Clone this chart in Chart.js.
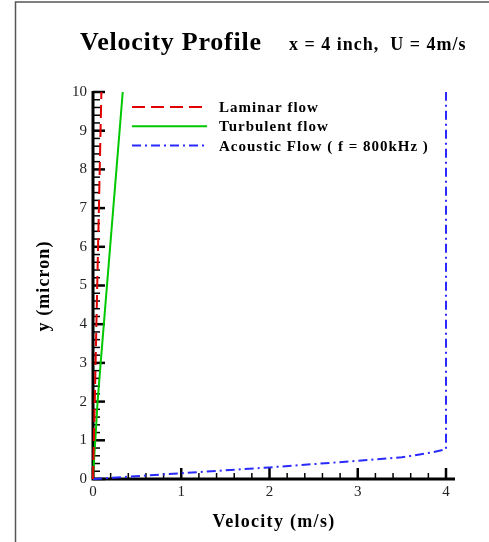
<!DOCTYPE html>
<html>
<head>
<meta charset="utf-8">
<script src="https://cdn.jsdelivr.net/npm/chart.js@4.4.1/dist/chart.umd.min.js"></script>
<style>
  html, body { margin: 0; padding: 0; background: #fff; }
  #wrap { width: 489px; height: 542px; position: relative; }
</style>
</head>
<body>
<div id="wrap"><canvas id="chartVelocity" width="489" height="542"></canvas></div>
<script>
// ── Velocity profile data ───────────────────────────────────

const seriesNames = ["Laminar flow", "Turbulent flow", "Acoustic Flow ( f = 800kHz )"];

const laminarX = [0, 0.02, 0.048, 0.095];
const laminarY = [0, 2, 5, 10];

const turbulentX = [0, 0.012, 0.026, 0.052, 0.087, 0.337];
const turbulentY = [0, 0.5, 1, 2, 3, 10];

const acousticX = [0, 1, 2, 3, 3.5, 3.85, 4, 4];
const acousticY = [0, 0.15, 0.3, 0.47, 0.56, 0.69, 0.77, 10];

const xMajorTicks = [0, 1, 2, 3, 4];
const yMajorTicks = [0, 1, 2, 3, 4, 5, 6, 7, 8, 9, 10];

const SERIF = "'Liberation Serif', 'Times New Roman', serif";

const toPoints = (xs, ys) => xs.map((x, i) => ({ x: x, y: ys[i] }));
const isMajor = (v, list) => list.some((m) => Math.abs(m - v) < 1e-6);

// ── Frame, titles, axes and legend drawn on the canvas ──────

const decorations = {
  id: "decorations",
  beforeDatasetsDraw(chart) {
    const { ctx, scales } = chart;
    const xs = scales.x;
    const ys = scales.y;
    const x0 = xs.getPixelForValue(0);
    const y0 = ys.getPixelForValue(0);
    ctx.save();

    // outer frame (top and left only)
    ctx.strokeStyle = "#555";
    ctx.lineWidth = 1.5;
    ctx.beginPath();
    ctx.moveTo(15.5, 542);
    ctx.lineTo(15.5, 2);
    ctx.lineTo(489, 2);
    ctx.stroke();

    // titles
    ctx.fillStyle = "#000";
    ctx.textBaseline = "alphabetic";
    ctx.textAlign = "left";
    ctx.font = "bold 26px " + SERIF;
    ctx.letterSpacing = "0.75px";
    ctx.fillText("Velocity Profile", 80, 50);
    ctx.font = "bold 18px " + SERIF;
    ctx.letterSpacing = "1px";
    ctx.fillText("x = 4 inch,  U = 4m/s", 289, 50);

    // axis titles
    ctx.font = "bold 18px " + SERIF;
    ctx.textAlign = "center";
    ctx.letterSpacing = "1.3px";
    ctx.fillText("Velocity (m/s)", 274, 527);
    ctx.letterSpacing = "1.1px";
    ctx.save();
    ctx.translate(49, 286);
    ctx.rotate(-Math.PI / 2);
    ctx.fillText("y (micron)", 0, 0);
    ctx.restore();
    ctx.letterSpacing = "0px";

    // tick marks, pointing into the plot
    ctx.strokeStyle = "#000";
    xs.ticks.forEach((t) => {
      const major = isMajor(t.value, xMajorTicks);
      const px = xs.getPixelForValue(t.value);
      ctx.lineWidth = major ? 2.5 : 1.5;
      ctx.beginPath();
      ctx.moveTo(px, y0);
      ctx.lineTo(px, y0 - (major ? 11 : 6));
      ctx.stroke();
    });
    ys.ticks.forEach((t) => {
      const major = isMajor(t.value, yMajorTicks);
      const py = ys.getPixelForValue(t.value);
      ctx.lineWidth = major ? 2.5 : 1.5;
      ctx.beginPath();
      ctx.moveTo(x0, py);
      ctx.lineTo(x0 + (major ? 12 : 7), py);
      ctx.stroke();
    });

    // axis lines
    ctx.lineWidth = 3;
    ctx.beginPath();
    ctx.moveTo(x0, ys.getPixelForValue(10) - 1);
    ctx.lineTo(x0, y0);
    ctx.lineTo(xs.getPixelForValue(4) + 9, y0);
    ctx.stroke();

    // legend
    ctx.font = "bold 15px " + SERIF;
    ctx.textAlign = "left";
    chart.data.datasets.forEach((ds, i) => {
      const ly = 107 + i * 19.3;
      ctx.strokeStyle = ds.borderColor;
      ctx.lineWidth = ds.borderWidth;
      ctx.setLineDash(ds.borderDash || []);
      ctx.beginPath();
      ctx.moveTo(132, ly);
      ctx.lineTo(207, ly);
      ctx.stroke();
      ctx.setLineDash([]);
      ctx.fillStyle = "#000";
      ctx.letterSpacing = "1px";
      ctx.fillText(ds.label, 219, ly + 5);
      ctx.letterSpacing = "0px";
    });

    ctx.restore();
  },
};

new Chart(document.getElementById("chartVelocity"), {
  type: "scatter",
  data: {
    datasets: [
      {
        label: seriesNames[0],
        data: toPoints(laminarX, laminarY),
        borderColor: "#e00000",
        borderWidth: 2,
        borderDash: [13, 6],
      },
      {
        label: seriesNames[1],
        data: toPoints(turbulentX, turbulentY),
        borderColor: "#00c800",
        borderWidth: 2,
      },
      {
        label: seriesNames[2],
        data: toPoints(acousticX, acousticY),
        borderColor: "#2a2aff",
        borderWidth: 2,
        borderDash: [9, 4, 2, 4],
      },
    ],
  },
  options: {
    responsive: false,
    animation: false,
    showLine: true,
    elements: { point: { radius: 0 }, line: { tension: 0 } },
    layout: { padding: { left: 0, right: 43, top: 92, bottom: 0 } },
    plugins: { legend: { display: false }, tooltip: { enabled: false } },
    datasets: { scatter: { clip: 12 } },
    scales: {
      x: {
        type: "linear",
        min: 0,
        max: 4,
        afterFit: (scale) => { scale.height = 63; },
        grid: { display: false, drawTicks: false },
        border: { display: false },
        ticks: {
          stepSize: 0.2,
          autoSkip: false,
          maxRotation: 0,
          padding: 4,
          color: "#222",
          font: { family: SERIF, size: 15 },
          callback: (v) => (isMajor(v, xMajorTicks) ? Math.round(v) : ""),
        },
      },
      y: {
        type: "linear",
        min: 0,
        max: 10,
        afterFit: (scale) => { scale.width = 93; },
        grid: { display: false, drawTicks: false },
        border: { display: false },
        ticks: {
          stepSize: 0.2,
          autoSkip: false,
          padding: 6,
          color: "#222",
          font: { family: SERIF, size: 15 },
          callback: (v) => (isMajor(v, yMajorTicks) ? Math.round(v) : ""),
        },
      },
    },
  },
  plugins: [decorations],
});
</script>
</body>
</html>
